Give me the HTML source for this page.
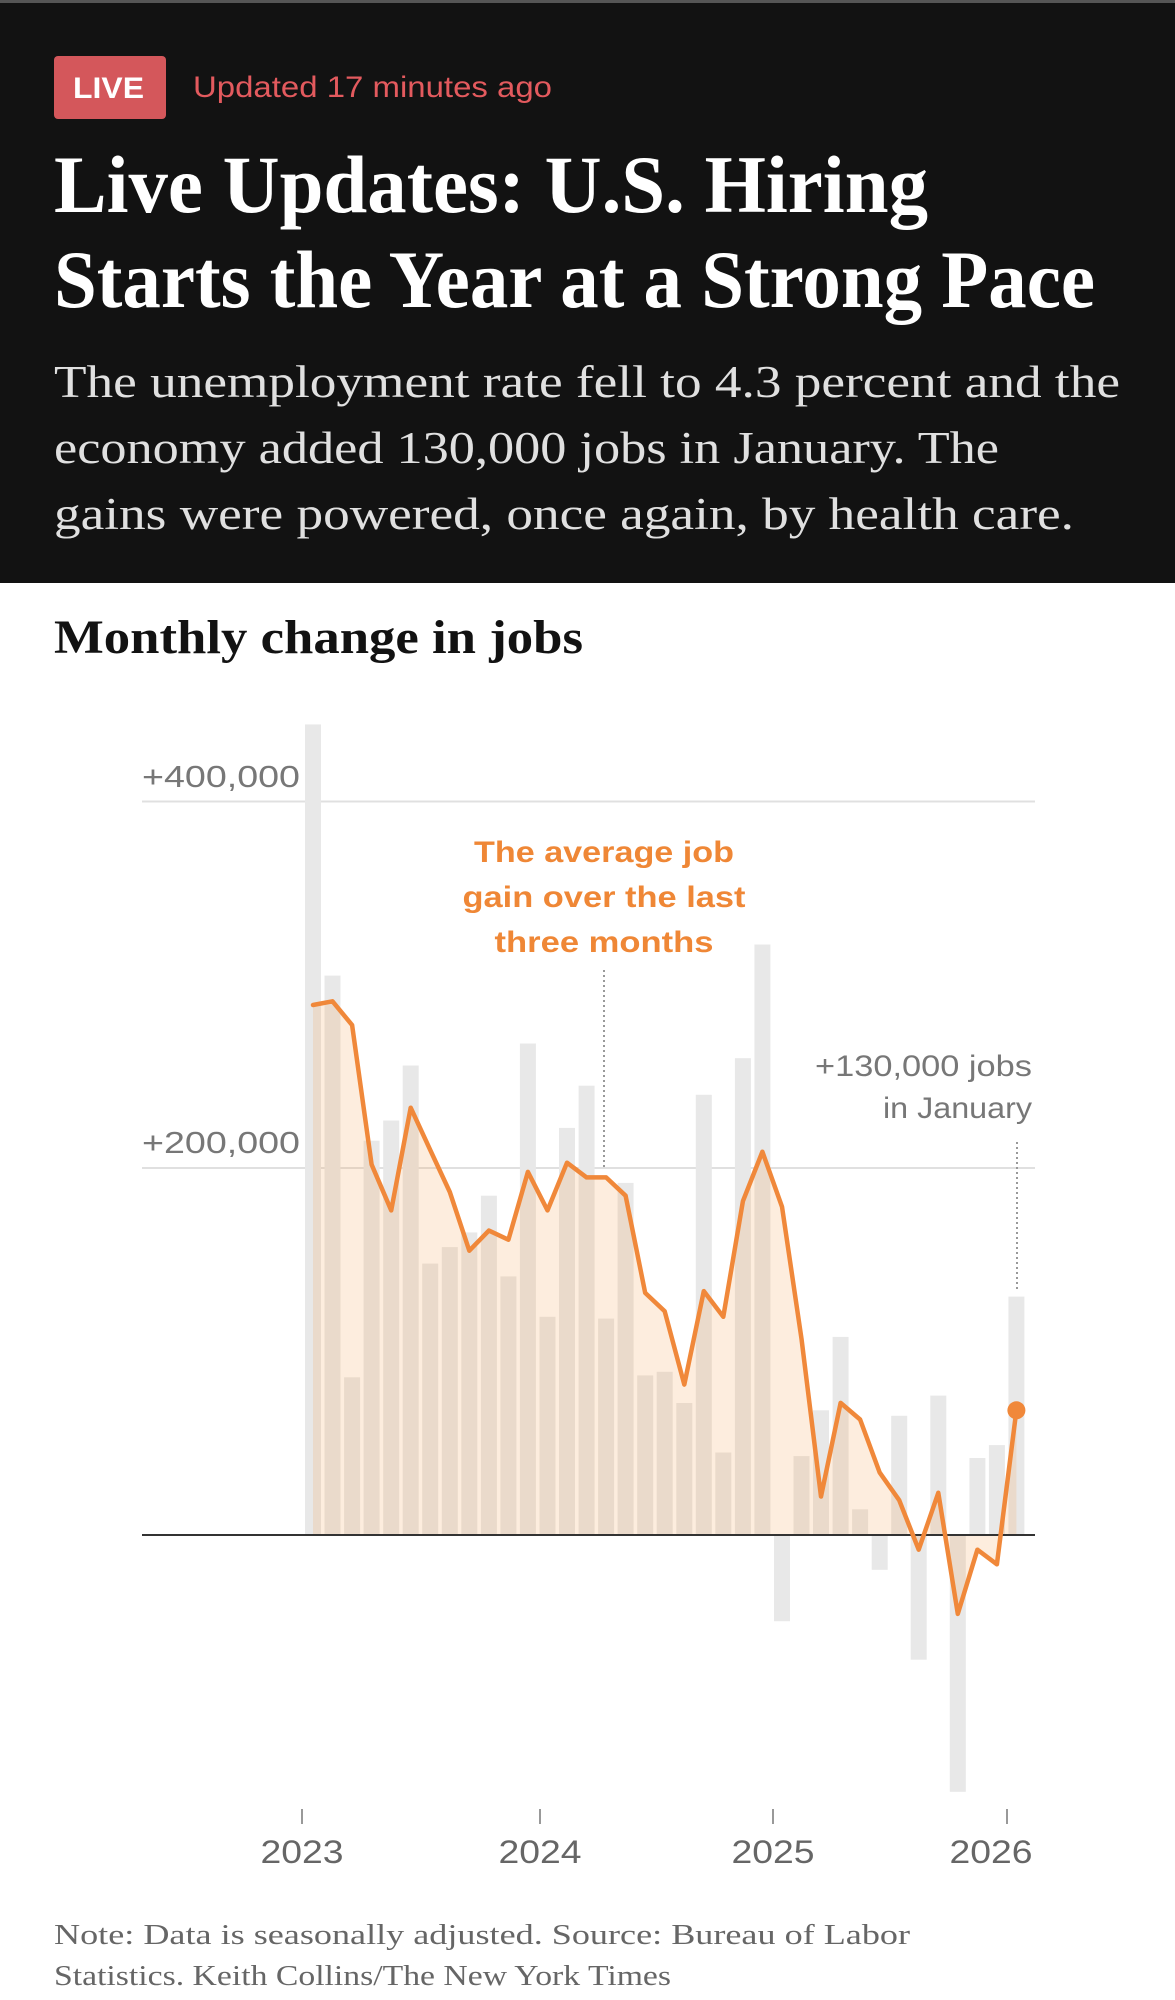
<!DOCTYPE html>
<html><head><meta charset="utf-8"><style>
html,body{margin:0;padding:0;background:#fff;}
svg{display:block;}
</style></head><body>
<svg width="1175" height="2000" viewBox="0 0 1175 2000" xmlns="http://www.w3.org/2000/svg">
<rect x="0" y="0" width="1175" height="583" fill="#121212"/>
<rect x="0" y="0" width="1175" height="3" fill="#555"/>
<rect x="54" y="56" width="112" height="63" rx="4" fill="#d4575b"/>
<text x="73" y="98" font-family="Liberation Sans, sans-serif" font-weight="bold" font-size="30" fill="#fff" textLength="71" lengthAdjust="spacingAndGlyphs">LIVE</text>
<text x="193" y="97" font-family="Liberation Sans, sans-serif" font-size="30" fill="#e35a5e" textLength="359" lengthAdjust="spacingAndGlyphs">Updated 17 minutes ago</text>
<g font-family="Liberation Serif, serif" font-weight="bold" font-size="82" fill="#fff">
<text x="54" y="212" textLength="874" lengthAdjust="spacingAndGlyphs">Live Updates: U.S. Hiring</text>
<text x="54" y="307" textLength="1041" lengthAdjust="spacingAndGlyphs">Starts the Year at a Strong Pace</text>
</g>
<g font-family="Liberation Serif, serif" font-size="45" fill="#e0e0e0">
<text x="54" y="397" textLength="1066" lengthAdjust="spacingAndGlyphs">The unemployment rate fell to 4.3 percent and the</text>
<text x="54" y="463" textLength="945" lengthAdjust="spacingAndGlyphs">economy added 130,000 jobs in January. The</text>
<text x="54" y="529" textLength="1020" lengthAdjust="spacingAndGlyphs">gains were powered, once again, by health care.</text>
</g>
<text x="54" y="653" font-family="Liberation Serif, serif" font-weight="bold" font-size="48" fill="#121212" textLength="529" lengthAdjust="spacingAndGlyphs">Monthly change in jobs</text>

<line x1="142" y1="801.5" x2="1035" y2="801.5" stroke="#e0e0e0" stroke-width="2"/>
<line x1="142" y1="1168" x2="1035" y2="1168" stroke="#e0e0e0" stroke-width="2"/>
<g font-family="Liberation Sans, sans-serif" font-size="31" fill="#777">
<text x="142" y="787" textLength="158" lengthAdjust="spacingAndGlyphs">+400,000</text>
<text x="142" y="1153" textLength="158" lengthAdjust="spacingAndGlyphs">+200,000</text>
</g>

<g fill="#e8e8e8">
<rect x="305.0" y="724.4" width="16" height="810.6"/>
<rect x="324.5" y="975.6" width="16" height="559.4"/>
<rect x="344.1" y="1377.3" width="16" height="157.7"/>
<rect x="363.6" y="1140.7" width="16" height="394.3"/>
<rect x="383.2" y="1120.5" width="16" height="414.5"/>
<rect x="402.7" y="1065.5" width="16" height="469.5"/>
<rect x="422.2" y="1263.6" width="16" height="271.4"/>
<rect x="441.8" y="1247.1" width="16" height="287.9"/>
<rect x="461.3" y="1232.4" width="16" height="302.6"/>
<rect x="480.9" y="1195.7" width="16" height="339.3"/>
<rect x="500.4" y="1276.4" width="16" height="258.6"/>
<rect x="519.9" y="1043.5" width="16" height="491.5"/>
<rect x="539.5" y="1316.8" width="16" height="218.2"/>
<rect x="559.0" y="1127.9" width="16" height="407.1"/>
<rect x="578.6" y="1085.7" width="16" height="449.3"/>
<rect x="598.1" y="1318.6" width="16" height="216.4"/>
<rect x="617.6" y="1182.9" width="16" height="352.1"/>
<rect x="637.2" y="1375.4" width="16" height="159.6"/>
<rect x="656.7" y="1371.8" width="16" height="163.2"/>
<rect x="676.3" y="1403.0" width="16" height="132.0"/>
<rect x="695.8" y="1094.8" width="16" height="440.2"/>
<rect x="715.3" y="1452.5" width="16" height="82.5"/>
<rect x="734.9" y="1058.2" width="16" height="476.8"/>
<rect x="754.4" y="944.5" width="16" height="590.5"/>
<rect x="774.0" y="1535" width="16" height="86.2"/>
<rect x="793.5" y="1456.1" width="16" height="78.9"/>
<rect x="813.0" y="1410.3" width="16" height="124.7"/>
<rect x="832.6" y="1336.9" width="16" height="198.1"/>
<rect x="852.1" y="1509.3" width="16" height="25.7"/>
<rect x="871.7" y="1535" width="16" height="34.8"/>
<rect x="891.2" y="1415.8" width="16" height="119.2"/>
<rect x="910.7" y="1535" width="16" height="124.7"/>
<rect x="930.3" y="1395.6" width="16" height="139.4"/>
<rect x="949.8" y="1535" width="16" height="256.8"/>
<rect x="969.4" y="1458.0" width="16" height="77.0"/>
<rect x="988.9" y="1445.1" width="16" height="89.9"/>
<rect x="1008.4" y="1296.6" width="16" height="238.4"/>
</g>

<polygon fill="#f5a55a" fill-opacity="0.2" points="313.0,1535 313.0,1005.0 332.5,1001.3 352.1,1025.1 371.6,1164.5 391.2,1210.4 410.7,1107.7 430.2,1149.9 449.8,1192.0 469.3,1250.7 488.9,1230.6 508.4,1239.7 527.9,1171.9 547.5,1210.4 567.0,1162.7 586.6,1177.4 606.1,1177.4 625.6,1195.7 645.2,1292.9 664.7,1311.3 684.3,1384.6 703.8,1291.1 723.3,1316.8 742.9,1201.2 762.4,1151.7 782.0,1206.7 801.5,1338.8 821.0,1496.5 840.6,1402.9 860.1,1419.5 879.7,1472.6 899.2,1500.2 918.7,1549.7 938.3,1492.8 957.8,1613.9 977.4,1549.7 996.9,1564.3 1016.4,1410.3 1016.4,1535"/>

<line x1="142" y1="1535" x2="1035" y2="1535" stroke="#333" stroke-width="2"/>

<line x1="604" y1="970" x2="604" y2="1168" stroke="#999" stroke-width="2" stroke-dasharray="2,3"/>
<line x1="1017" y1="1142" x2="1017" y2="1289" stroke="#999" stroke-width="2" stroke-dasharray="2,3"/>

<polyline fill="none" stroke="#f0883a" stroke-width="4.5" stroke-linejoin="round" stroke-linecap="round" points="313.0,1005.0 332.5,1001.3 352.1,1025.1 371.6,1164.5 391.2,1210.4 410.7,1107.7 430.2,1149.9 449.8,1192.0 469.3,1250.7 488.9,1230.6 508.4,1239.7 527.9,1171.9 547.5,1210.4 567.0,1162.7 586.6,1177.4 606.1,1177.4 625.6,1195.7 645.2,1292.9 664.7,1311.3 684.3,1384.6 703.8,1291.1 723.3,1316.8 742.9,1201.2 762.4,1151.7 782.0,1206.7 801.5,1338.8 821.0,1496.5 840.6,1402.9 860.1,1419.5 879.7,1472.6 899.2,1500.2 918.7,1549.7 938.3,1492.8 957.8,1613.9 977.4,1549.7 996.9,1564.3 1016.4,1410.3"/>
<circle cx="1016.4" cy="1410.3" r="9" fill="#f0883a"/>

<g font-family="Liberation Sans, sans-serif" font-weight="bold" font-size="30" fill="#ef8736" text-anchor="middle">
<text x="604" y="862" textLength="260" lengthAdjust="spacingAndGlyphs">The average job</text>
<text x="604" y="907" textLength="283" lengthAdjust="spacingAndGlyphs">gain over the last</text>
<text x="604" y="952" textLength="219" lengthAdjust="spacingAndGlyphs">three months</text>
</g>
<g font-family="Liberation Sans, sans-serif" font-size="30" fill="#777">
<text x="815" y="1076" textLength="217" lengthAdjust="spacingAndGlyphs">+130,000 jobs</text>
<text x="883" y="1118" textLength="149" lengthAdjust="spacingAndGlyphs">in January</text>
</g>

<g stroke="#999" stroke-width="2">
<line x1="302" y1="1809" x2="302" y2="1824"/>
<line x1="540" y1="1809" x2="540" y2="1824"/>
<line x1="773" y1="1809" x2="773" y2="1824"/>
<line x1="1007" y1="1809" x2="1007" y2="1824"/>
</g>
<g font-family="Liberation Sans, sans-serif" font-size="32" fill="#666" text-anchor="middle">
<text x="302" y="1863" textLength="83" lengthAdjust="spacingAndGlyphs">2023</text>
<text x="540" y="1863" textLength="83" lengthAdjust="spacingAndGlyphs">2024</text>
<text x="773" y="1863" textLength="83" lengthAdjust="spacingAndGlyphs">2025</text>
<text x="991" y="1863" textLength="83" lengthAdjust="spacingAndGlyphs">2026</text>
</g>

<g font-family="Liberation Serif, serif" font-size="29" fill="#666">
<text x="54" y="1944" textLength="856" lengthAdjust="spacingAndGlyphs">Note: Data is seasonally adjusted.  Source: Bureau of Labor</text>
<text x="54" y="1985" textLength="617" lengthAdjust="spacingAndGlyphs">Statistics.  Keith Collins/The New York Times</text>
</g>
</svg>
</body></html>
